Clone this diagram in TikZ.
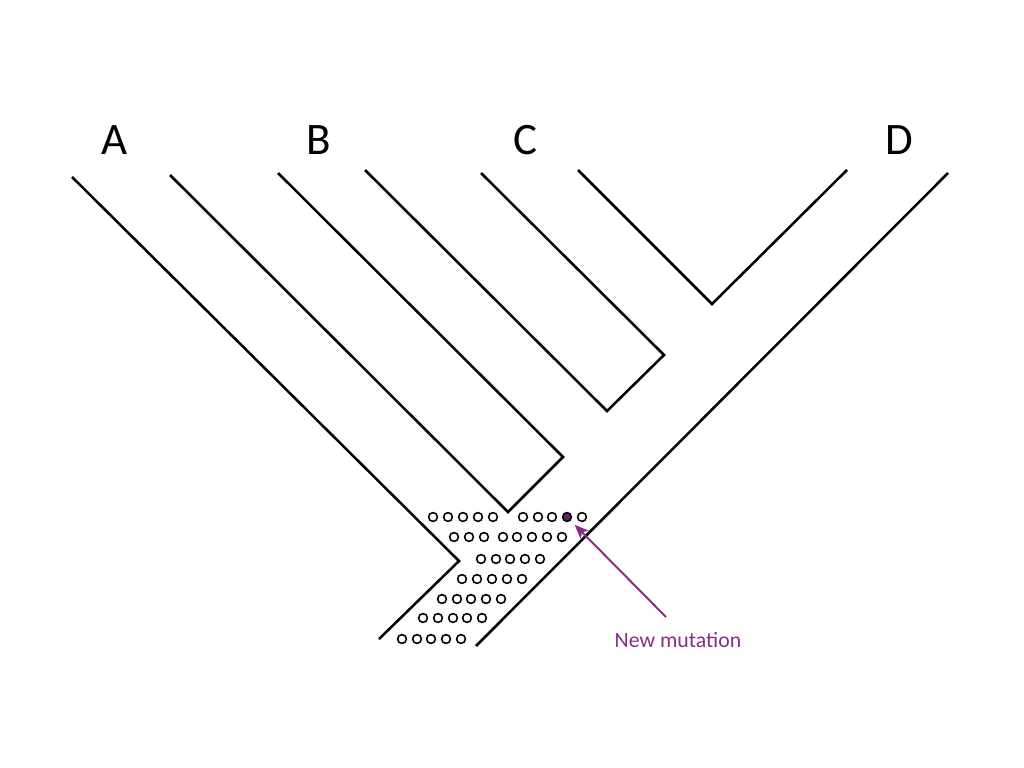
\documentclass[tikz,border=0pt]{standalone}
\usepackage{fontspec}
\setmainfont{Carlito}
\usepackage{tikz}
\usetikzlibrary{arrows.meta}
\usepackage{xcolor}
\definecolor{roxo}{RGB}{135,45,135}
\definecolor{roxoesc}{RGB}{105,30,105}
\tikzset{
  ramo/.style={line width=1.8pt, line join=miter},
  cel/.style={circle, draw, line width=1.1pt, inner sep=0pt, minimum size=0.22cm},
  rotulo/.style={font=\fontsize{32}{36}\selectfont}
}

\begin{document}
\begin{tikzpicture}[x=0.025cm, y=-0.025cm]
\useasboundingbox (0,0) rectangle (1024,768);
% Arvore
\draw[ramo] (72,177) -- (459,561) -- (379,639); % Lado esquerdo
\draw[ramo] (948,173) -- (476,646); % Lado direito
\draw[ramo] (170,175) -- (508,512) -- (563,457) -- (278,173); % Entre A e B
\draw[ramo] (365,170) -- (607,411) -- (664,355) -- (481,173); % Entre B e C
\draw[ramo] (578,170) -- (712,304) -- (847,170); % Entre C e D
% Rotulos
\node[rotulo] (a) at (115,140) {A};
\node[rotulo] (b) at (319,140) {B};
\node[rotulo] (c) at (525,140) {C};
\node[rotulo] (d) at (899,140) {D};
% Populacao
\foreach \x in {433,448,463,478,493,523,538,552,582} \node[cel] at (\x,517) {};
\foreach \x in {454,469,484,503,517,532,547,562} \node[cel] at (\x,537) {};
\foreach \x in {481,496,510,525,540} \node[cel] at (\x,559) {};
\foreach \x in {462,477,492,507,522} \node[cel] at (\x,579) {};
\foreach \x in {442,457,471,486,501} \node[cel] at (\x,599) {};
\foreach \x in {423,438,453,467,482} \node[cel] at (\x,618) {};
\foreach \x in {402,417,431,446,461} \node[cel] at (\x,639) {};
\node[cel, draw=black, fill=roxoesc] (mut) at (567,517) {};
% Mutacao
\node[text=roxo, font=\fontsize{15.5}{18}\selectfont] (nova) at (678,640) {New mutation};
\coordinate (cauda) at (666,617);
\draw[roxo, line width=1.4pt, -{Stealth[length=10pt, width=8pt, inset=2.5pt]}, shorten >=4pt] (cauda) -- (mut);
\end{tikzpicture}
\end{document}
